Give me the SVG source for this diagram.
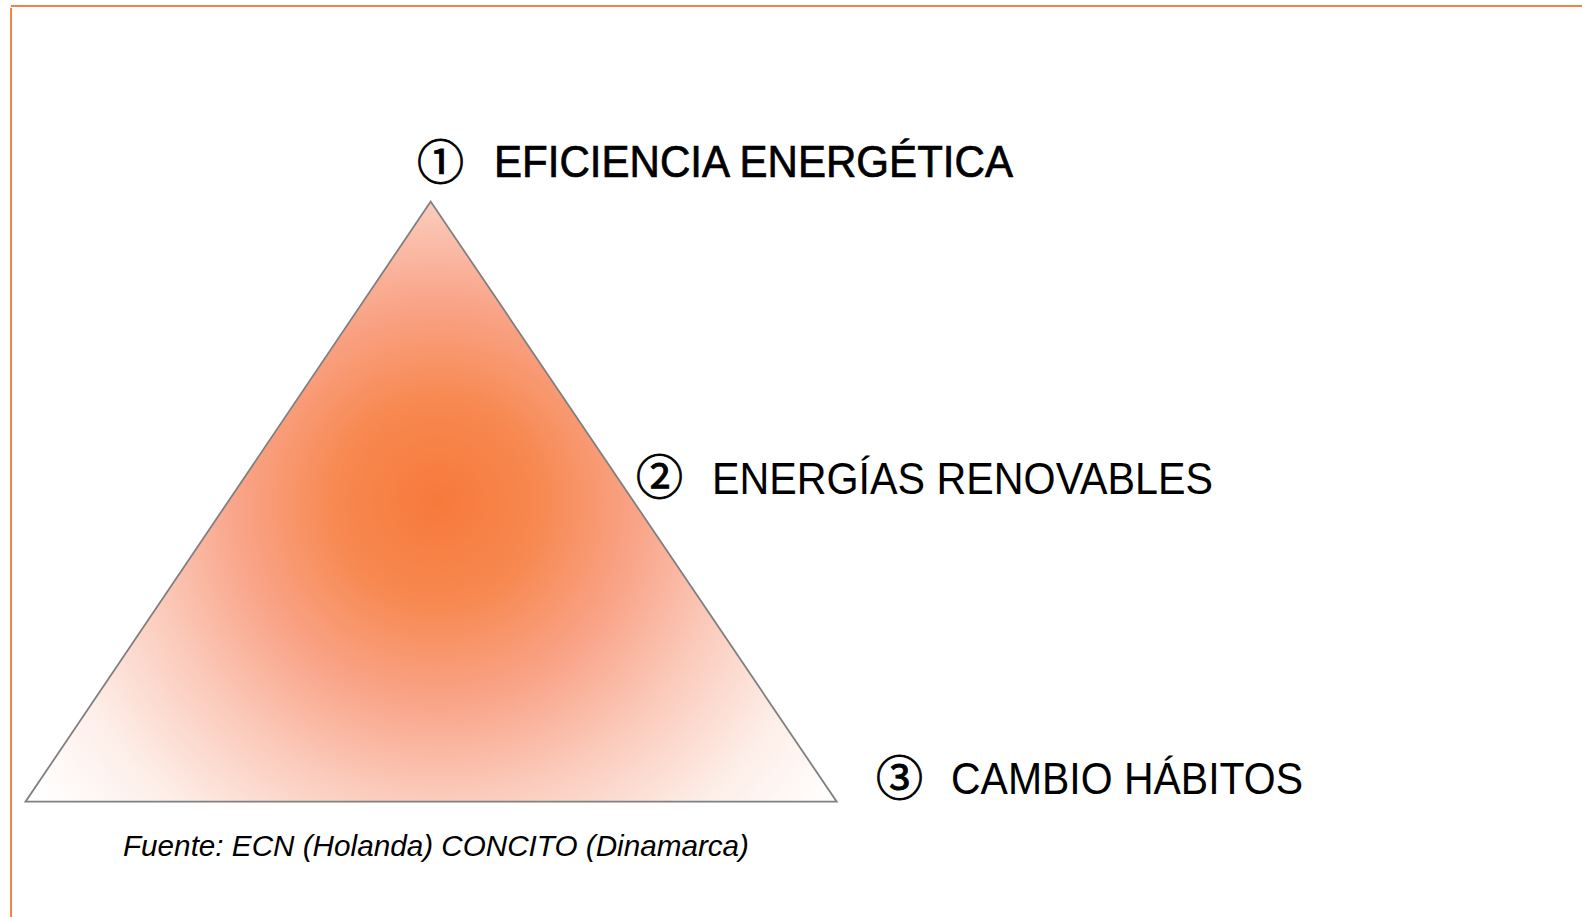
<svg xmlns="http://www.w3.org/2000/svg" width="1582" height="917" viewBox="0 0 1582 917">
  <style>
    .frame { stroke: #F98040; stroke-width: 2; fill: none; }
    .label { font-family: "Liberation Sans", Arial, sans-serif; font-size: 45px; fill: #000; }
    .num { font-family: "Noto Sans CJK JP", "DejaVu Sans", sans-serif; font-size: 47px; fill: #000; stroke: #000; stroke-width: 0.9; }
    .bold { stroke: #000; stroke-width: 0.7; }
    .src { font-family: "Liberation Sans", Arial, sans-serif; font-size: 29px; font-style: italic; fill: #000; }
  </style>
  <defs>
    <radialGradient id="glow" gradientUnits="userSpaceOnUse" cx="438" cy="502" r="495">
      <stop offset="0" stop-color="#F7793C"/>
      <stop offset="0.2" stop-color="#F7884F"/>
      <stop offset="0.4" stop-color="#F9A387"/>
      <stop offset="0.6" stop-color="#FBCBBC"/>
      <stop offset="0.8" stop-color="#FDEDE7"/>
      <stop offset="1" stop-color="#FFFFFF"/>
    </radialGradient>
  </defs>
  <rect width="1582" height="917" fill="#FFFFFF"/>
  <g id="frame">
    <line class="frame" x1="11" y1="6" x2="1582" y2="6"/>
    <line class="frame" x1="11" y1="8" x2="11" y2="917"/>
  </g>
  <g id="pyramid">
    <polygon points="430.7,201.5 25.5,801.7 836.7,801.7" fill="url(#glow)" stroke="#808080" stroke-width="1.8"/>
  </g>
  <g id="connectors"></g>
  <g id="level1">
    <text class="num" x="417" y="179">①</text>
    <text class="label bold" x="494" y="177" textLength="519" lengthAdjust="spacingAndGlyphs">EFICIENCIA ENERGÉTICA</text>
  </g>
  <g id="level2">
    <text class="num" x="636" y="494">②</text>
    <text class="label" x="712" y="494" textLength="501" lengthAdjust="spacingAndGlyphs">ENERGÍAS RENOVABLES</text>
  </g>
  <g id="level3">
    <text class="num" x="876" y="795">③</text>
    <text class="label" x="951" y="794" textLength="352" lengthAdjust="spacingAndGlyphs">CAMBIO HÁBITOS</text>
  </g>
  <g id="source">
    <text class="src" x="123" y="856" textLength="626" lengthAdjust="spacingAndGlyphs">Fuente: ECN (Holanda) CONCITO (Dinamarca)</text>
  </g>
</svg>
